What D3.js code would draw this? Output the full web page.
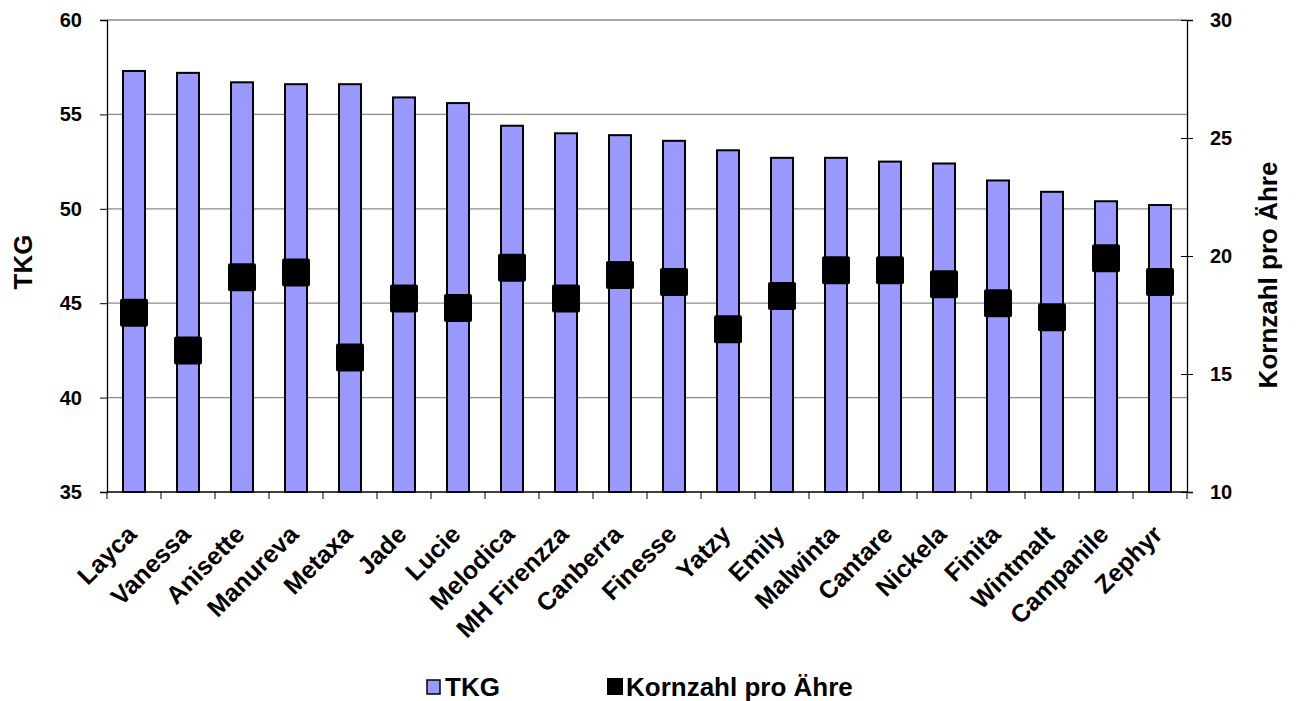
<!DOCTYPE html>
<html>
<head>
<meta charset="utf-8">
<script src="https://cdn.jsdelivr.net/npm/d3@7/dist/d3.min.js"></script>
<style>
  html, body { margin: 0; padding: 0; background: #fff; }
  text { font-family: "Liberation Sans", Arial, sans-serif; font-weight: bold; }
</style>
</head>
<body>
<div id="chart"></div>
<script>
// Sorten, TKG (linke Achse) und Kornzahl pro Ähre (rechte Achse)
const sorten = ['Layca', 'Vanessa', 'Anisette', 'Manureva', 'Metaxa', 'Jade', 'Lucie',
  'Melodica', 'MH Firenzza', 'Canberra', 'Finesse', 'Yatzy', 'Emily', 'Malwinta',
  'Cantare', 'Nickela', 'Finita', 'Wintmalt', 'Campanile', 'Zephyr'];
const tkg = [57.3, 57.2, 56.7, 56.6, 56.6, 55.9, 55.6, 54.4, 54.0, 53.9, 53.6, 53.1,
  52.7, 52.7, 52.5, 52.4, 51.5, 50.9, 50.4, 50.2];
const kornzahl = [17.6, 16.0, 19.1, 19.3, 15.7, 18.2, 17.8, 19.5, 18.2, 19.2, 18.9, 16.9,
  18.3, 19.4, 19.4, 18.8, 18.0, 17.4, 19.9, 18.9];
const leftTicks = [35, 40, 45, 50, 55, 60];
const rightTicks = [10, 15, 20, 25, 30];

const width = 1296, height = 701;
const m = { left: 107, right: 1187, top: 20, bottom: 492 };
const FONT = 'Liberation Sans, Arial, sans-serif';

const svg = d3.select('#chart').append('svg')
  .attr('width', width).attr('height', height);

const x = d3.scaleBand().domain(sorten).range([m.left, m.right]);
const yL = d3.scaleLinear().domain([35, 60]).range([m.bottom, m.top]);
const yR = d3.scaleLinear().domain([10, 30]).range([m.bottom, m.top]);

// gridlines
svg.append('g')
  .selectAll('line').data(leftTicks.slice(1)).join('line')
  .attr('x1', m.left).attr('x2', m.right)
  .attr('y1', d => yL(d)).attr('y2', d => yL(d))
  .attr('stroke', '#8c8c8c').attr('stroke-width', 1.3);

// bars
const barW = 22;
svg.append('g')
  .selectAll('rect').data(tkg).join('rect')
  .attr('x', (d, i) => x(sorten[i]) + x.bandwidth() / 2 - barW / 2)
  .attr('y', d => yL(d))
  .attr('width', barW)
  .attr('height', d => yL(35) - yL(d))
  .attr('fill', '#9999ff')
  .attr('stroke', '#000').attr('stroke-width', 2);

// markers
const mk = 28;
svg.append('g')
  .selectAll('rect').data(kornzahl).join('rect')
  .attr('x', (d, i) => x(sorten[i]) + x.bandwidth() / 2 - mk / 2)
  .attr('y', d => yR(d) - mk / 2)
  .attr('width', mk).attr('height', mk)
  .attr('rx', 2)
  .attr('fill', '#000');

// left axis
const axL = svg.append('g')
  .attr('transform', `translate(${m.left},0)`)
  .call(d3.axisLeft(yL).tickValues(leftTicks).tickSize(7).tickPadding(18).tickFormat(d3.format('d')));
// right axis
const axR = svg.append('g')
  .attr('transform', `translate(${m.right},0)`)
  .call(d3.axisRight(yR).tickValues(rightTicks).tickSize(6).tickPadding(17).tickFormat(d3.format('d')));
axR.selectAll('.tick line').attr('x1', -6);
// x axis with ticks between categories
const axX = svg.append('g')
  .attr('transform', `translate(0,${m.bottom})`)
  .call(d3.axisBottom(x).tickSize(0));
axX.select('.domain').remove();
axX.append('line').attr('x1', m.left).attr('x2', m.right)
  .attr('stroke', '#000').attr('stroke-width', 1.3);
axX.selectAll('.sep').data(d3.range(sorten.length + 1)).join('line')
  .attr('x1', i => m.left + i * x.bandwidth()).attr('x2', i => m.left + i * x.bandwidth())
  .attr('y1', 0).attr('y2', 7)
  .attr('stroke', '#000').attr('stroke-width', 1);

[axL, axR].forEach(a => {
  a.select('.domain').attr('stroke', '#000').attr('stroke-width', 1.3);
  a.selectAll('.tick line').attr('stroke', '#000');
  a.selectAll('.tick text').attr('font-size', 20).attr('fill', '#000')
    .attr('font-family', FONT).attr('font-weight', 'bold');
});
axX.selectAll('.tick text')
  .attr('font-size', 25).attr('fill', '#000')
  .attr('font-family', FONT).attr('font-weight', 'bold')
  .attr('text-anchor', 'end')
  .attr('x', 0).attr('y', 0).attr('dy', 0)
  .attr('transform', 'translate(4,44) rotate(-45)');

// axis titles
svg.append('text')
  .attr('transform', 'translate(32,262) rotate(-90)')
  .attr('text-anchor', 'middle').attr('font-size', 26).text('TKG');
svg.append('text')
  .attr('transform', 'translate(1277,275) rotate(-90)')
  .attr('text-anchor', 'middle').attr('font-size', 26).text('Kornzahl pro Ähre');

// legend
const lg = svg.append('g').attr('transform', 'translate(427,696)');
lg.append('rect').attr('x', 0).attr('y', -16).attr('width', 13).attr('height', 14)
  .attr('fill', '#9999ff').attr('stroke', '#000').attr('stroke-width', 1.5);
lg.append('text').attr('x', 18).attr('y', 0).attr('font-size', 26).text('TKG');
lg.append('rect').attr('x', 180).attr('y', -18).attr('width', 16).attr('height', 17)
  .attr('fill', '#000');
lg.append('text').attr('x', 199).attr('y', 0).attr('font-size', 26).text('Kornzahl pro Ähre');
</script>
</body>
</html>
